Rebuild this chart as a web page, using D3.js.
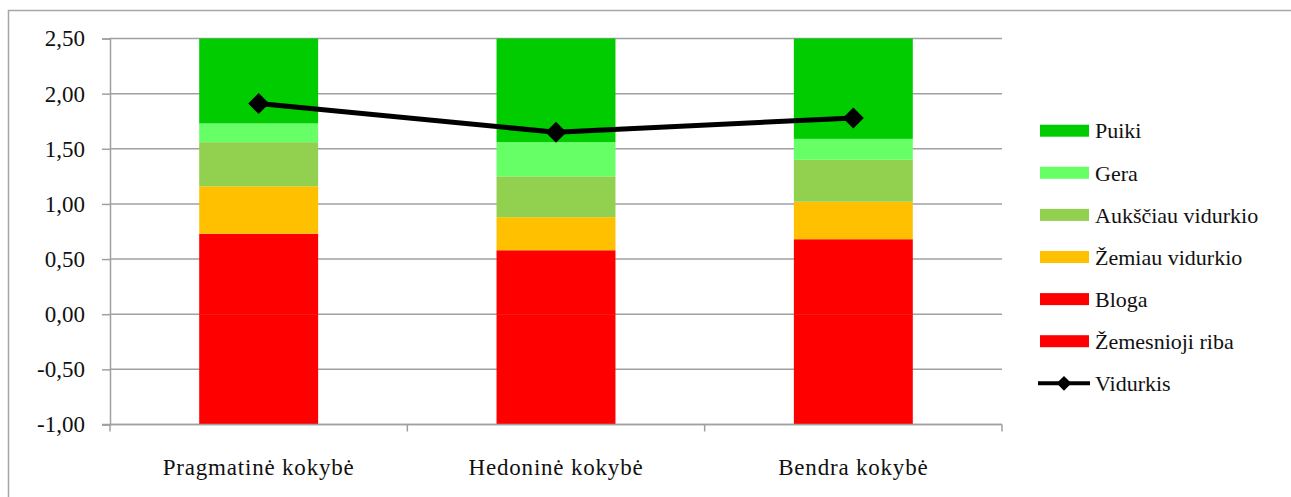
<!DOCTYPE html>
<html>
<head>
<meta charset="utf-8">
<script src="https://cdn.jsdelivr.net/npm/d3@7"></script>
<style>
  html, body { margin: 0; padding: 0; background: #fff; }
  svg { display: block; }
  svg text { font-family: "Liberation Serif", Tinos, "Times New Roman", "DejaVu Serif", serif !important; fill: #111; }
</style>
</head>
<body>
<svg id="chart" width="1291" height="497"></svg>
<script>
const categories = ["Pragmatinė kokybė", "Hedoninė kokybė", "Bendra kokybė"];
const zemesniojiRiba = [-1, -1, -1];
const bloga = [0.73, 0.58, 0.68];
const zemiauVidurkio = [0.43, 0.30, 0.34];
const aukSciauVidurkio = [0.40, 0.37, 0.38];
const gera = [0.17, 0.31, 0.19];
const puiki = [0.77, 0.94, 0.91];
const vidurkis = [1.91, 1.65, 1.78];
const yTicks = [-1, -0.5, 0, 0.5, 1, 1.5, 2, 2.5];

const seriesNames = ["Žemesnioji riba", "Bloga", "Žemiau vidurkio", "Aukščiau vidurkio", "Gera", "Puiki"];
const seriesValues = [zemesniojiRiba, bloga, zemiauVidurkio, aukSciauVidurkio, gera, puiki];
const seriesColors = ["#FF0000", "#FF0000", "#FFC000", "#92D050", "#66FF66", "#00CC00"];

const svg = d3.select("#chart");
const pLeft = 110, pRight = 1002, pTop = 38.5, pBottom = 424.5;
const FONT = 23;

const x = d3.scaleBand().domain(categories).range([pLeft, pRight]).paddingInner(0.6).paddingOuter(0.3);
const y = d3.scaleLinear().domain([-1, 2.5]).range([pBottom, pTop]);

// outer frame
svg.append("rect").attr("x", 8.5).attr("y", 10.5).attr("width", 1300).attr("height", 1300)
  .attr("fill", "none").attr("stroke", "#a6a6a6").attr("stroke-width", 1.5);

// gridlines
svg.append("g").selectAll("line").data(yTicks).join("line")
  .attr("x1", pLeft).attr("x2", pRight)
  .attr("y1", d => y(d)).attr("y2", d => y(d))
  .attr("stroke", "#a0a0a0").attr("stroke-width", 1.5);

// stacked bars
const data = categories.map((c, i) => {
  const o = { cat: c };
  seriesNames.forEach((s, k) => o[s] = seriesValues[k][i]);
  return o;
});
const stack = d3.stack().keys(seriesNames).offset(d3.stackOffsetDiverging);
const stacked = stack(data);

svg.append("g").selectAll("g").data(stacked).join("g")
  .attr("fill", (d, k) => seriesColors[k])
  .selectAll("rect").data(d => d).join("rect")
  .attr("x", d => x(d.data.cat))
  .attr("width", x.bandwidth())
  .attr("y", d => y(Math.max(d[0], d[1])))
  .attr("height", d => Math.abs(y(d[0]) - y(d[1])));

// y axis
const yAxis = d3.axisLeft(y).tickValues(yTicks).tickSize(8).tickPadding(17)
  .tickFormat(d => d3.format(".2f")(d).replace(".", ",").replace("\u2212", "-"));
const gy = svg.append("g").attr("transform", `translate(${pLeft},0)`).call(yAxis);
gy.attr("font-family", null);
gy.select(".domain").attr("stroke", "#a0a0a0").attr("stroke-width", 1.5);
gy.selectAll(".tick line").attr("stroke", "#a0a0a0").attr("stroke-width", 1.5);
gy.selectAll(".tick text").attr("font-size", FONT).attr("fill", "#111");

// x axis
const xAxis = d3.axisBottom(x).tickSize(0).tickPadding(34);
const gx = svg.append("g").attr("transform", `translate(0,${pBottom})`).call(xAxis);
gx.attr("font-family", null);
gx.select(".domain").remove();
gx.selectAll(".tick text").attr("font-size", FONT).attr("fill", "#111").attr("letter-spacing", 0.8);
svg.append("line").attr("x1", pLeft - 8).attr("x2", pRight).attr("y1", pBottom).attr("y2", pBottom)
  .attr("stroke", "#a0a0a0").attr("stroke-width", 1.5);
const bounds = [pLeft].concat(categories.map(c => x(c) + x.bandwidth() + x.step() * x.paddingInner() / 2));
bounds[bounds.length - 1] = pRight;
svg.append("g").selectAll("line").data(bounds).join("line")
  .attr("x1", d => d).attr("x2", d => d).attr("y1", pBottom).attr("y2", pBottom + 7)
  .attr("stroke", "#a0a0a0").attr("stroke-width", 1.5);

// mean line
const cx = c => x(c) + x.bandwidth() / 2;
svg.append("path")
  .datum(vidurkis)
  .attr("d", d3.line().x((d, i) => cx(categories[i])).y(d => y(d)))
  .attr("fill", "none").attr("stroke", "#000").attr("stroke-width", 5).attr("stroke-linejoin", "round");
svg.append("g").selectAll("path").data(vidurkis).join("path")
  .attr("d", d3.symbol(d3.symbolSquare, 220)())
  .attr("transform", (d, i) => `translate(${cx(categories[i])},${y(d)}) rotate(45)`)
  .attr("fill", "#000");

// legend
const legendItems = ["Puiki", "Gera", "Aukščiau vidurkio", "Žemiau vidurkio", "Bloga", "Žemesnioji riba"];
const legendColors = ["#00CC00", "#66FF66", "#92D050", "#FFC000", "#FF0000", "#FF0000"];
const lg = svg.append("g");
const ly0 = 130.7, lstep = 42.1;
legendItems.forEach((name, i) => {
  const yy = ly0 + i * lstep;
  lg.append("rect").attr("x", 1040).attr("y", yy - 6).attr("width", 49).attr("height", 12).attr("fill", legendColors[i]);
  lg.append("text").attr("x", 1095).attr("y", yy).attr("dy", "0.35em").attr("font-size", FONT - 1).text(name);
});
const vy = ly0 + 6 * lstep;
lg.append("line").attr("x1", 1038).attr("x2", 1090).attr("y1", vy).attr("y2", vy).attr("stroke", "#000").attr("stroke-width", 4);
lg.append("path").attr("d", d3.symbol(d3.symbolSquare, 110)()).attr("transform", `translate(1064,${vy}) rotate(45)`).attr("fill", "#000");
lg.append("text").attr("x", 1095).attr("y", vy).attr("dy", "0.35em").attr("font-size", FONT - 1).text("Vidurkis");
</script>
</body>
</html>
